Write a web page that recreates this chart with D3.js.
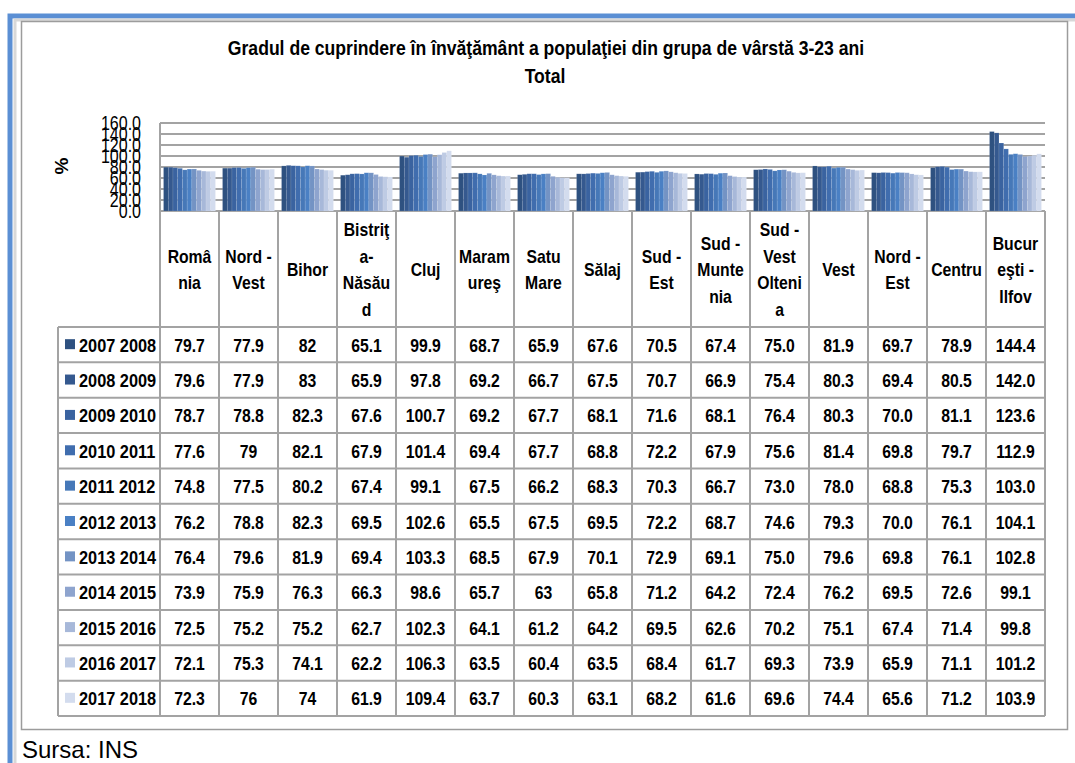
<!DOCTYPE html>
<html>
<head>
<meta charset="utf-8">
<script src="https://cdn.jsdelivr.net/npm/d3@7.9.0/dist/d3.min.js"></script>
<style>
  body { margin: 0; background: #fff; }
  svg { display: block; }
  text { font-family: 'Liberation Sans', Arial, sans-serif; fill: #000; }
</style>
</head>
<body>
<svg id="chart" width="1075" height="763"></svg>
<script>
// header labels, wrapped the way the table shows them
const regions = [
  ['Româ', 'nia'], ['Nord -', 'Vest'], ['Bihor'], ['Bistriţ', 'a-', 'Năsău', 'd'],
  ['Cluj'], ['Maram', 'ureş'], ['Satu', 'Mare'], ['Sălaj'], ['Sud -', 'Est'],
  ['Sud -', 'Munte', 'nia'], ['Sud -', 'Vest', 'Olteni', 'a'], ['Vest'],
  ['Nord -', 'Est'], ['Centru'], ['Bucur', 'eşti -', 'Ilfov']
];
const years = ['2007 2008', '2008 2009', '2009 2010', '2010 2011', '2011 2012', '2012 2013',
  '2013 2014', '2014 2015', '2015 2016', '2016 2017', '2017 2018'];
const colors = ['#2e5180', '#35598f', '#3a63a0', '#406dae', '#4678b8', '#4a80c4',
  '#7393c4', '#8ea4ce', '#a7b8d9', '#becbe4', '#d3dcee'];

// one array per school year, written as the table prints them
const v2007 = ['79.7', '77.9', '82', '65.1', '99.9', '68.7', '65.9', '67.6', '70.5', '67.4', '75.0', '81.9', '69.7', '78.9', '144.4'];
const v2008 = ['79.6', '77.9', '83', '65.9', '97.8', '69.2', '66.7', '67.5', '70.7', '66.9', '75.4', '80.3', '69.4', '80.5', '142.0'];
const v2009 = ['78.7', '78.8', '82.3', '67.6', '100.7', '69.2', '67.7', '68.1', '71.6', '68.1', '76.4', '80.3', '70.0', '81.1', '123.6'];
const v2010 = ['77.6', '79', '82.1', '67.9', '101.4', '69.4', '67.7', '68.8', '72.2', '67.9', '75.6', '81.4', '69.8', '79.7', '112.9'];
const v2011 = ['74.8', '77.5', '80.2', '67.4', '99.1', '67.5', '66.2', '68.3', '70.3', '66.7', '73.0', '78.0', '68.8', '75.3', '103.0'];
const v2012 = ['76.2', '78.8', '82.3', '69.5', '102.6', '65.5', '67.5', '69.5', '72.2', '68.7', '74.6', '79.3', '70.0', '76.1', '104.1'];
const v2013 = ['76.4', '79.6', '81.9', '69.4', '103.3', '68.5', '67.9', '70.1', '72.9', '69.1', '75.0', '79.6', '69.8', '76.1', '102.8'];
const v2014 = ['73.9', '75.9', '76.3', '66.3', '98.6', '65.7', '63', '65.8', '71.2', '64.2', '72.4', '76.2', '69.5', '72.6', '99.1'];
const v2015 = ['72.5', '75.2', '75.2', '62.7', '102.3', '64.1', '61.2', '64.2', '69.5', '62.6', '70.2', '75.1', '67.4', '71.4', '99.8'];
const v2016 = ['72.1', '75.3', '74.1', '62.2', '106.3', '63.5', '60.4', '63.5', '68.4', '61.7', '69.3', '73.9', '65.9', '71.1', '101.2'];
const v2017 = ['72.3', '76', '74', '61.9', '109.4', '63.7', '60.3', '63.1', '68.2', '61.6', '69.6', '74.4', '65.6', '71.2', '103.9'];
const series = [v2007, v2008, v2009, v2010, v2011, v2012, v2013, v2014, v2015, v2016, v2017];
const yTicks = [0, 20, 40, 60, 80, 100, 120, 140, 160];

const svg = d3.select('#chart');
const plot = { left: 160, right: 1045, top: 123, bottom: 211 };
const table = { left: 58, headBottom: 327, bottom: 716 };
const gridColor = '#a3a3a3';
const SX = 0.83; // no narrow face installed, so squeeze Arial-like text

// place a text at x,y and squeeze it horizontally
function at(sel, x, y, sx = SX) {
  return sel.attr('transform', `translate(${x},${y}) scale(${sx},1)`);
}

// frame
svg.append('rect').attr('x', 10).attr('y', 16).attr('width', 1080).attr('height', 760)
  .attr('fill', 'none').attr('stroke', '#5b8fd4').attr('stroke-width', 5);
svg.append('rect').attr('x', 15).attr('y', 20).attr('width', 1070).attr('height', 760)
  .attr('fill', 'none').attr('stroke', '#d8d8d8').attr('stroke-width', 3);
svg.append('rect').attr('x', 21.5).attr('y', 21.5).attr('width', 1046).attr('height', 708)
  .attr('fill', '#fff').attr('stroke', '#9c9c9c').attr('stroke-width', 1.5);

// title
at(svg.append('text'), 546, 55, 0.88).attr('text-anchor', 'middle')
  .attr('font-size', 20).attr('font-weight', 'bold')
  .text('Gradul de cuprindere în învăţământ a populaţiei din grupa de vârstă 3-23 ani');
at(svg.append('text'), 545, 83, 0.88).attr('text-anchor', 'middle')
  .attr('font-size', 20).attr('font-weight', 'bold').text('Total');

const x0 = d3.scaleBand().domain(d3.range(regions.length)).range([plot.left, plot.right]);
const x1 = d3.scaleBand().domain(years).range([0, x0.bandwidth()]).paddingOuter(0.75);
const y = d3.scaleLinear().domain([0, 160]).range([plot.bottom, plot.top]);

// gridlines
svg.append('g').selectAll('line').data(yTicks).join('line')
  .attr('x1', plot.left).attr('x2', plot.right)
  .attr('y1', (d) => y(d)).attr('y2', (d) => y(d))
  .attr('stroke', gridColor).attr('stroke-width', 2);
svg.append('line').attr('x1', plot.left).attr('x2', plot.left)
  .attr('y1', plot.top).attr('y2', plot.bottom)
  .attr('stroke', gridColor).attr('stroke-width', 2);

// y axis labels (they overlap in the original too)
const yAxis = d3.axisLeft(y).tickValues(yTicks).tickFormat(d3.format('.1f')).tickSize(0).tickPadding(0);
const yg = svg.append('g').attr('transform', 'translate(141,0)').call(yAxis);
yg.select('.domain').remove();
yg.selectAll('text').attr('font-size', 20).attr('fill', '#000')
  .attr('font-family', "'Liberation Sans', Arial, sans-serif")
  .attr('transform', 'scale(0.8,1)');

at(svg.append('text'), 68, 166, 1).attr('transform', 'translate(68,166) rotate(-90)')
  .attr('text-anchor', 'middle').attr('font-size', 19).attr('font-weight', 'bold').text('%');

// bars
series.forEach((vals, s) => {
  svg.append('g').selectAll('rect').data(vals).join('rect')
    .attr('x', (d, i) => x0(i) + x1(years[s]))
    .attr('width', x1.bandwidth())
    .attr('y', (d) => y(+d))
    .attr('height', (d) => y(0) - y(+d))
    .attr('fill', colors[s])
    .attr('stroke', 'rgba(255,255,255,0.18)').attr('stroke-width', 0.6);
});

// table
const rowY = d3.scaleBand().domain(years).range([table.headBottom, table.bottom]);
const tg = svg.append('g');

x0.domain().concat([regions.length]).forEach((i) => {
  const xx = i < regions.length ? x0(i) : plot.right;
  tg.append('line').attr('x1', xx).attr('x2', xx)
    .attr('y1', plot.bottom).attr('y2', table.bottom)
    .attr('stroke', gridColor).attr('stroke-width', 2);
});
tg.append('line').attr('x1', table.left).attr('x2', table.left)
  .attr('y1', table.headBottom).attr('y2', table.bottom)
  .attr('stroke', gridColor).attr('stroke-width', 2);
years.concat(['end']).forEach((yr) => {
  const yy = yr === 'end' ? table.bottom : rowY(yr);
  tg.append('line').attr('x1', table.left).attr('x2', plot.right)
    .attr('y1', yy).attr('y2', yy)
    .attr('stroke', gridColor).attr('stroke-width', 2);
});

// header labels
const headMid = (plot.bottom + table.headBottom) / 2;
const lineH = 26.5;
regions.forEach((lines, i) => {
  lines.forEach((ln, k) => {
    at(tg.append('text'), x0(i) + x0.bandwidth() / 2,
      headMid + (k - (lines.length - 1) / 2) * lineH + 7)
      .attr('text-anchor', 'middle').attr('font-size', 19).attr('font-weight', 'bold')
      .text(ln);
  });
});

// legend column + values
years.forEach((yr, s) => {
  const cy = rowY(yr) + rowY.bandwidth() / 2;
  tg.append('rect').attr('x', 65).attr('y', cy - 5.5).attr('width', 10).attr('height', 10)
    .attr('fill', colors[s]);
  at(tg.append('text'), 79, cy + 7, 0.86).attr('font-size', 19).attr('font-weight', 'bold').text(yr);
  series[s].forEach((d, i) => {
    at(tg.append('text'), x0(i) + x0.bandwidth() / 2, cy + 7)
      .attr('text-anchor', 'middle').attr('font-size', 19).attr('font-weight', 'bold')
      .text(d);
  });
});

svg.append('text').attr('x', 22).attr('y', 758).attr('font-size', 24)
  .text('Sursa: INS');
</script>
</body>
</html>
